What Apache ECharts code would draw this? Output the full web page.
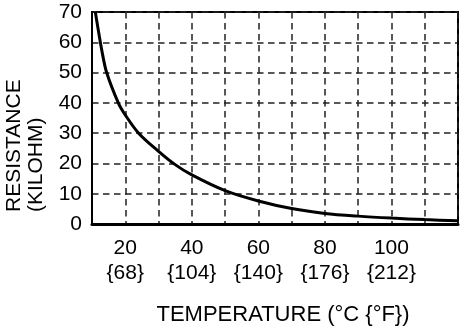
<!DOCTYPE html>
<html>
<head>
<meta charset="utf-8">
<script src="https://cdn.jsdelivr.net/npm/echarts@6/dist/echarts.min.js"></script>
<style>
html,body{margin:0;padding:0;background:#fff;}
#chart{width:461px;height:332px;}
</style>
</head>
<body>
<div id="chart"></div>
<script>
// Temperature (°C) and resistance (kilohm)
var temperatureC = [11, 13, 14.4, 17.9, 20, 24, 30, 35, 40, 50, 60, 70, 80, 90, 100, 110, 120];
var resistanceK = [70, 57, 50, 40, 36, 30, 24, 19.6, 16.2, 11.0, 7.6, 5.1, 3.5, 2.6, 1.95, 1.45, 1.05];

// Labeled x ticks: Celsius and Fahrenheit
var xTickC = [20, 40, 60, 80, 100];
var xTickF = ['{68}', '{104}', '{140}', '{176}', '{212}'];
var yTicks = [0, 10, 20, 30, 40, 50, 60, 70];

var xTitle = 'TEMPERATURE (°C {°F})';
var yTitleLine1 = 'RESISTANCE';
var yTitleLine2 = '(KILOHM)';

var FONT = '"Liberation Sans", Arial, Helvetica, sans-serif';

var chart = echarts.init(document.getElementById('chart'), null, {renderer: 'canvas'});

var seriesData = temperatureC.map(function (t, i) { return [t, resistanceK[i]]; });

var gridDash = {color: '#222', width: 1.5, type: [6.5, 4.5]};

chart.setOption({
  animation: false,
  backgroundColor: '#fff',
  grid: {
    left: 92, right: 1, top: 12, bottom: 108,
    show: true, borderColor: '#000', borderWidth: 2, backgroundColor: 'transparent'
  },
  xAxis: {
    type: 'value',
    min: 10, max: 120, interval: 10,
    axisLine: {show: true, onZero: false, lineStyle: {color: '#000', width: 3}},
    axisTick: {show: false},
    splitLine: {show: true, lineStyle: gridDash},
    axisLabel: {
      color: '#000', fontFamily: FONT, fontSize: 21, lineHeight: 25, margin: 12,
      formatter: function (v) {
        var idx = xTickC.indexOf(v);
        if (idx < 0) return '';
        return v + '\n' + xTickF[idx];
      }
    }
  },
  yAxis: {
    type: 'value',
    min: 0, max: 70, interval: 10,
    axisLine: {show: true, onZero: false, lineStyle: {color: '#000', width: 2}},
    axisTick: {show: false},
    splitLine: {show: true, lineStyle: gridDash},
    axisLabel: {
      color: '#000', fontFamily: FONT, fontSize: 21, margin: 10,
      formatter: function (v) { return yTicks.indexOf(v) >= 0 ? String(v) : ''; }
    }
  },
  graphic: [
    {
      type: 'text', x: 283, y: 315,
      style: {text: xTitle, fill: '#000', font: '22px ' + FONT, align: 'center', verticalAlign: 'middle'}
    },
    {
      type: 'text', x: 14, y: 212, rotation: Math.PI / 2,
      style: {text: yTitleLine1, fill: '#000', font: '21px ' + FONT, align: 'left', verticalAlign: 'middle'}
    },
    {
      type: 'text', x: 36, y: 212, rotation: Math.PI / 2,
      style: {text: yTitleLine2, fill: '#000', font: '21px ' + FONT, align: 'left', verticalAlign: 'middle'}
    }
  ],
  series: [{
    type: 'line',
    data: seriesData,
    smooth: 0.3,
    showSymbol: false,
    clip: true,
    lineStyle: {color: '#000', width: 3}
  }]
});
</script>
</body>
</html>
